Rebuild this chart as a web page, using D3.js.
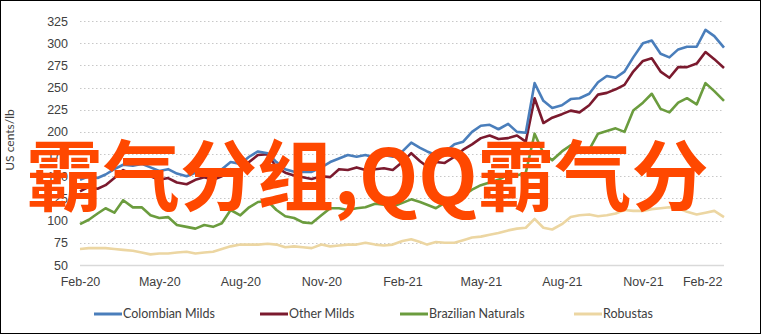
<!DOCTYPE html>
<html>
<head>
<meta charset="utf-8">
<script src="https://cdn.jsdelivr.net/npm/d3@7"></script>
<style>
	body { margin: 0; background: #fff; }
	svg { display: block; font-family: Lato, 'Liberation Sans', sans-serif; }
	.axis text { font-size: 12.5px; fill: #404040; }
	.legend text { font-size: 12.5px; fill: #404040; }
</style>
</head>
<body>
<div id="chart"></div>
<script>
// series names and colours
const seriesNames = [ 'Colombian Milds', 'Other Milds', 'Brazilian Naturals', 'Robustas' ];
const seriesColors = [ '#4a7ebb', '#7b1a2e', '#6b9c3e', '#ecd6a2' ];

// observations: 1st, 11th and 21st of each month, Feb 2020 .. Feb 2022 (US cents/lb)
const colombianMilds = [
	146, 150, 148, 152, 158, 163, 162, 164, 160, 156, 158, 153, 150, 154, 156, 153, 158, 166, 164, 172,
	178, 176, 166, 158, 155, 155, 155, 160, 166, 170, 174, 172, 174, 171, 174, 172, 178, 188, 182, 178,
	174, 177, 186, 189, 200, 207, 208, 203, 209, 200, 199, 255, 235, 227, 230, 237, 238, 243, 256, 263,
	261, 268, 284, 300, 303, 288, 284, 293, 296, 296, 315, 308, 295
];
const otherMilds = [
	133, 138, 136, 140, 148, 157, 152, 155, 150, 146, 148, 143, 141, 146, 149, 146, 150, 158, 157, 166,
	174, 175, 160, 154, 151, 149, 147, 150, 149, 158, 157, 160, 157, 158, 159, 157, 166, 176, 167, 161,
	166, 165, 172, 180, 186, 193, 196, 192, 193, 196, 189, 238, 210, 216, 220, 224, 222, 230, 242, 244,
	248, 253, 268, 280, 283, 268, 261, 273, 273, 277, 290, 282, 272
];
const brazilianNaturals = [
	96, 101, 108, 114, 109, 123, 115, 115, 106, 103, 104, 95, 93, 91, 95, 93, 97, 112, 106, 115,
	121, 122, 112, 105, 103, 98, 97, 106, 114, 114, 112, 114, 115, 119, 118, 116, 120, 124, 121, 118,
	114, 120, 123, 128, 135, 140, 143, 146, 152, 151, 154, 198, 176, 168, 178, 185, 180, 180, 198, 201,
	204, 200, 224, 233, 243, 226, 222, 233, 238, 231, 255, 246, 235
];
const robustas = [
	68, 69, 69, 69, 68, 67, 66, 64, 62, 63, 63, 64, 65, 63, 64, 65, 68, 71, 73, 73,
	73, 74, 73, 70, 71, 70, 69, 73, 71, 72, 73, 73, 75, 73, 72, 73, 77, 79, 76, 73,
	76, 75, 75, 78, 81, 82, 84, 86, 89, 91, 92, 102, 92, 90, 96, 104, 106, 107, 105, 106,
	108, 112, 111, 111, 113, 114, 115, 114, 110, 107, 109, 111, 104
];

const yTicks = [ 50, 75, 100, 125, 150, 175, 200, 225, 250, 275, 300, 325 ];
const xTickLabels = [ 'Feb-20', 'May-20', 'Aug-20', 'Nov-20', 'Feb-21', 'May-21', 'Aug-21', 'Nov-21', 'Feb-22' ];
const overlayText = '霸气分组,QQ霸气分';

let dimensions = {
	width  : 761,
	height : 334,
	margin : {
		top    : 21,
		right  : 37,
		bottom : 69,
		left   : 80
	}
};
dimensions.boundedWidth = dimensions.width - dimensions.margin.left - dimensions.margin.right;
dimensions.boundedHeight = dimensions.height - dimensions.margin.top - dimensions.margin.bottom;

// date grid for the observations
const startDate = new Date(2020, 1, 1);
const endDate = new Date(2022, 1, 1);
const dates = [];
d3.timeMonth.range(startDate, endDate).forEach(function(m) {
	dates.push(m, d3.timeDay.offset(m, 10), d3.timeDay.offset(m, 20));
});
dates.push(endDate);

const allSeries = [ colombianMilds, otherMilds, brazilianNaturals, robustas ].map(function(values, i) {
	return {
		name   : seriesNames[i],
		color  : seriesColors[i],
		values : values.map(function(v, j) {
			return { date: dates[j], value: v };
		})
	};
});

const svg = d3
	.select('#chart')
	.append('svg')
	.attr('width', dimensions.width)
	.attr('height', dimensions.height);

svg
	.append('rect')
	.attr('x', 0.5)
	.attr('y', 0.5)
	.attr('width', dimensions.width - 1)
	.attr('height', dimensions.height - 1)
	.attr('fill', '#fff')
	.attr('stroke', '#000');

const bounds = svg.append('g').attr('transform', `translate(${dimensions.margin.left}, ${dimensions.margin.top})`);

const x = d3.scaleTime().domain([ startDate, endDate ]).range([ 0, dimensions.boundedWidth ]);
const y = d3.scaleLinear().domain([ 50, 325 ]).range([ dimensions.boundedHeight, 0 ]);

// gridlines
bounds
	.selectAll('.grid')
	.data(yTicks)
	.enter()
	.append('line')
	.attr('class', 'grid')
	.attr('x1', 0)
	.attr('x2', dimensions.boundedWidth)
	.attr('y1', function(d) {
		return Math.round(y(d)) + 0.5;
	})
	.attr('y2', function(d) {
		return Math.round(y(d)) + 0.5;
	})
	.attr('stroke', function(d) {
		return d === 50 ? '#d9d9d9' : '#c8c8c8';
	})
	.attr('stroke-width', function(d) {
		return d === 50 ? 1.5 : 1.2;
	})
	.attr('stroke-dasharray', function(d) {
		return d === 50 ? null : '1.5,2.5';
	});

// y axis
const yAxisGenerator = d3.axisLeft(y).tickValues(yTicks).tickSize(0).tickPadding(12);
bounds.append('g').attr('class', 'y axis').call(yAxisGenerator).call(function(g) {
	g.select('.domain').remove();
});

// x axis, one label every three months starting Feb-20
const xTicks = d3.timeMonth.range(startDate, d3.timeDay.offset(endDate, 1), 3);
const xAxisGenerator = d3.axisBottom(x).tickValues(xTicks).tickSize(0).tickPadding(12).tickFormat(function(d, i) {
	return xTickLabels[i];
});
const xAxis = bounds
	.append('g')
	.attr('class', 'x axis')
	.attr('transform', 'translate(0,' + dimensions.boundedHeight + ')')
	.call(xAxisGenerator);
xAxis.select('.domain').remove();
xAxis.selectAll('.tick text').filter(function(d, i) {
	return i === xTicks.length - 1;
}).attr('text-anchor', 'end').attr('x', -2);

// axis title
svg
	.append('text')
	.attr('transform', 'translate(14, 140) rotate(-90)')
	.attr('text-anchor', 'middle')
	.attr('font-size', '12px')
	.attr('fill', '#404040')
	.text('US cents/lb');

// lines
const line = d3
	.line()
	.x(function(d) {
		return x(d.date);
	})
	.y(function(d) {
		return y(d.value);
	});

bounds
	.selectAll('.series')
	.data(allSeries.slice().reverse())
	.enter()
	.append('path')
	.attr('class', 'series')
	.attr('fill', 'none')
	.attr('stroke', function(d) {
		return d.color;
	})
	.attr('stroke-width', 2.6)
	.attr('stroke-linejoin', 'round')
	.attr('d', function(d) {
		return line(d.values);
	});

// legend
const legendX = [ 94, 260, 400, 574 ];
const legend = svg
	.append('g')
	.attr('class', 'legend')
	.attr('transform', 'translate(0, 314)')
	.selectAll('g')
	.data(allSeries)
	.enter()
	.append('g')
	.attr('transform', function(d, i) {
		return `translate(${legendX[i]}, 0)`;
	});
legend
	.append('line')
	.attr('x1', 0)
	.attr('x2', 28)
	.attr('stroke', function(d) {
		return d.color;
	})
	.attr('stroke-width', 3);
legend
	.append('text')
	.attr('x', 29)
	.attr('dy', '0.35em')
	.text(function(d) {
		return d.name;
	});

// overlay caption
svg
	.append('text')
	.attr('x', 26)
	.attr('y', 205)
	.attr('font-family', "'Noto Sans CJK SC', sans-serif")
	.attr('font-weight', 'bold')
	.attr('font-size', '77px')
	.attr('fill', '#ff4800')
	.text(overlayText);
</script>
</body>
</html>
